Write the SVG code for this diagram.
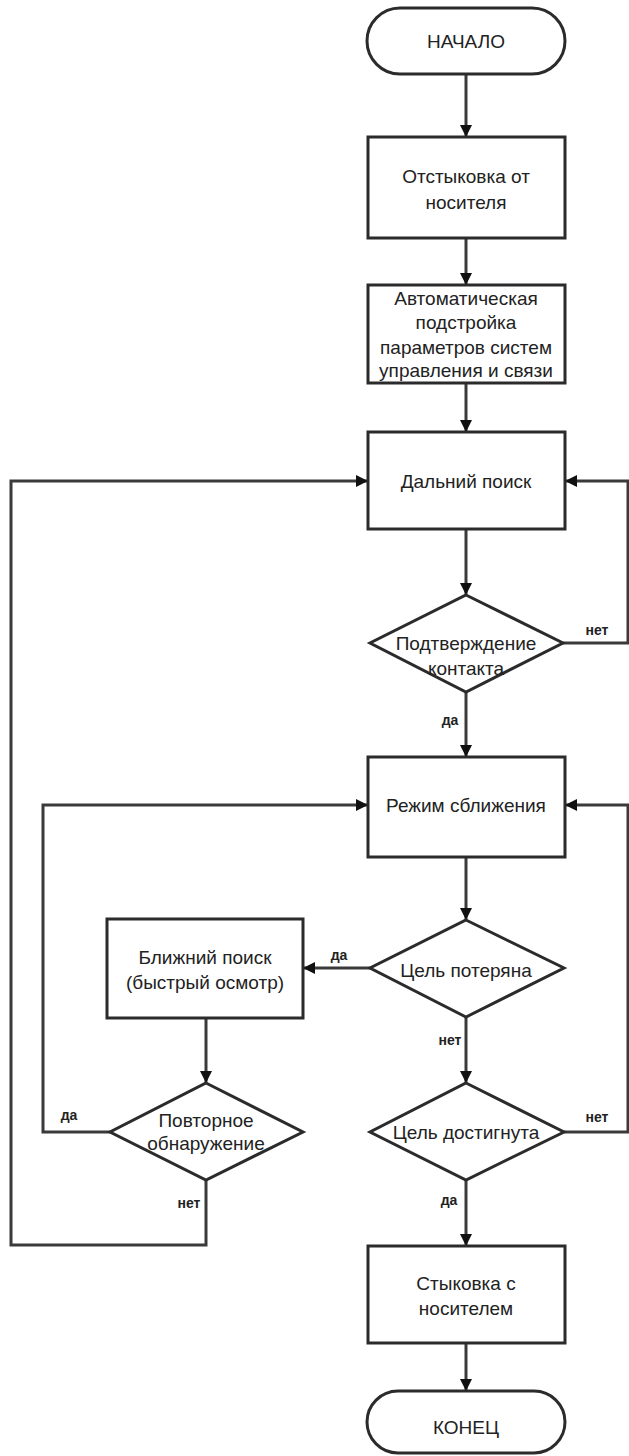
<svg xmlns="http://www.w3.org/2000/svg" width="629" height="1456" viewBox="0 0 629 1456">
<style>
.s{fill:#fff;stroke:#2b2b2b;stroke-width:3}
.t{font-family:"Liberation Sans",Arial,sans-serif;font-size:19px;fill:#222;text-anchor:middle;dominant-baseline:central}
.l{font-family:"Liberation Sans",Arial,sans-serif;font-size:14px;font-weight:bold;fill:#222;text-anchor:middle;dominant-baseline:central}
.c{fill:none;stroke:#3a3a3a;stroke-width:3}
</style>
<defs>
<marker id="a" markerUnits="userSpaceOnUse" markerWidth="12" markerHeight="12" refX="11" refY="6" orient="auto">
<path d="M0,0 L12,6 L0,12 Z" fill="#111"/>
</marker>
</defs>
<g id="connectors">
<path class="c" d="M466,74 V136" marker-end="url(#a)"/>
<path class="c" d="M466,238 V284" marker-end="url(#a)"/>
<path class="c" d="M466,383 V431" marker-end="url(#a)"/>
<path class="c" d="M466,529 V594" marker-end="url(#a)"/>
<path class="c" d="M563,643 H628 V481 H566" marker-end="url(#a)"/>
<path class="c" d="M466,692 V756" marker-end="url(#a)"/>
<path class="c" d="M466,857 V919" marker-end="url(#a)"/>
<path class="c" d="M370,968 H304" marker-end="url(#a)"/>
<path class="c" d="M466,1017 V1082" marker-end="url(#a)"/>
<path class="c" d="M564,1132 H628 V805 H566" marker-end="url(#a)"/>
<path class="c" d="M466,1180 V1245" marker-end="url(#a)"/>
<path class="c" d="M466,1343 V1390" marker-end="url(#a)"/>
<path class="c" d="M206,1018 V1082" marker-end="url(#a)"/>
<path class="c" d="M110,1132 H43 V805 H367" marker-end="url(#a)"/>
<path class="c" d="M206,1180 V1245 H11 V481 H367" marker-end="url(#a)"/>
<text class="l" x="597" y="630">нет</text>
<text class="l" x="450" y="720">да</text>
<text class="l" x="339" y="955">да</text>
<text class="l" x="450" y="1040">нет</text>
<text class="l" x="597" y="1117">нет</text>
<text class="l" x="449" y="1200">да</text>
<text class="l" x="69" y="1115">да</text>
<text class="l" x="189" y="1203">нет</text>
</g>
<g id="start">
<rect class="s" x="367" y="8" width="198" height="66" rx="33"/>
<text class="t" x="466" y="41">НАЧАЛО</text>
</g>
<g id="undock">
<rect class="s" x="368" y="137" width="197" height="101"/>
<text class="t" x="466" y="176">Отстыковка от</text>
<text class="t" x="466" y="202">носителя</text>
</g>
<g id="tuning">
<rect class="s" x="368" y="285" width="197" height="98"/>
<text class="t" x="466" y="298">Автоматическая</text>
<text class="t" x="466" y="322">подстройка</text>
<text class="t" x="466" y="347">параметров систем</text>
<text class="t" x="466" y="370">управления и связи</text>
</g>
<g id="far-search">
<rect class="s" x="368" y="432" width="197" height="97"/>
<text class="t" x="466" y="481">Дальний поиск</text>
</g>
<g id="confirm">
<polygon class="s" points="466,595 563,643 466,692 370,643"/>
<text class="t" x="466" y="643">Подтверждение</text>
<text class="t" x="466" y="668">контакта</text>
</g>
<g id="approach">
<rect class="s" x="368" y="757" width="197" height="100"/>
<text class="t" x="466" y="805">Режим сближения</text>
</g>
<g id="lost">
<polygon class="s" points="466,920 564,968 466,1017 370,968"/>
<text class="t" x="466" y="970">Цель потеряна</text>
</g>
<g id="near-search">
<rect class="s" x="107" y="919" width="196" height="99"/>
<text class="t" x="205" y="957">Ближний поиск</text>
<text class="t" x="205" y="982">(быстрый осмотр)</text>
</g>
<g id="reached">
<polygon class="s" points="466,1083 564,1132 466,1180 370,1132"/>
<text class="t" x="466" y="1132">Цель достигнута</text>
</g>
<g id="redetect">
<polygon class="s" points="206,1083 303,1132 206,1180 110,1132"/>
<text class="t" x="206" y="1120">Повторное</text>
<text class="t" x="206" y="1143">обнаружение</text>
</g>
<g id="dock">
<rect class="s" x="368" y="1246" width="197" height="97"/>
<text class="t" x="466" y="1283">Стыковка с</text>
<text class="t" x="466" y="1308">носителем</text>
</g>
<g id="end">
<rect class="s" x="367" y="1391" width="198" height="62" rx="31"/>
<text class="t" x="466" y="1427">КОНЕЦ</text>
</g>
</svg>
